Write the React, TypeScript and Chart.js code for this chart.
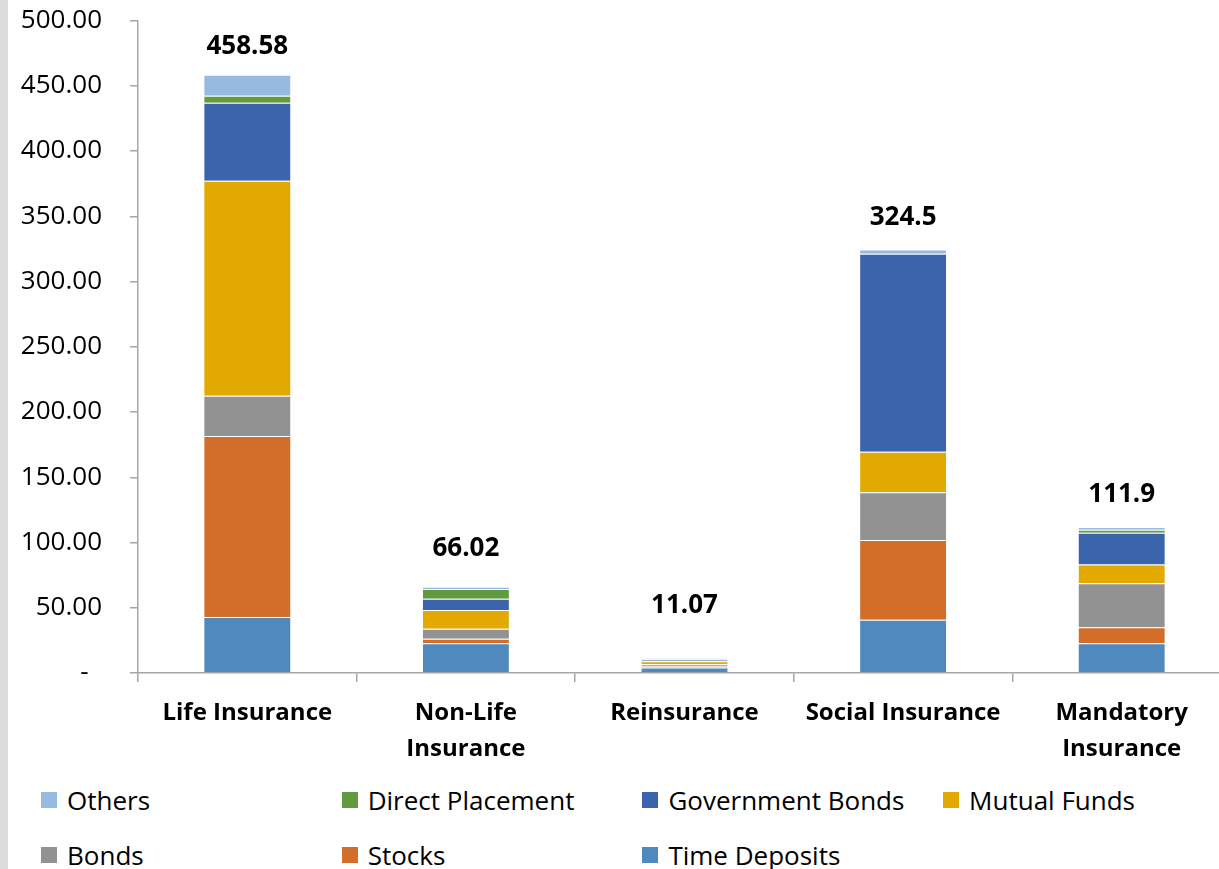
import React, { useEffect, useRef } from "react";
import { Chart, registerables } from "chart.js";

Chart.register(...registerables);

// Investment portfolio by insurance type (stacked, bottom to top)
const categories: (string | string[])[] = [
  "Life Insurance",
  ["Non-Life", "Insurance"],
  "Reinsurance",
  "Social Insurance",
  ["Mandatory", "Insurance"],
];

const timeDeposits = [43.0, 22.8, 4.2, 40.9, 22.8];
const stocks = [138.7, 3.5, 1.0, 61.1, 12.2];
const bonds = [30.7, 7.7, 1.5, 36.5, 33.8];
const mutualFunds = [164.9, 14.3, 2.3, 31.0, 14.3];
const governmentBonds = [59.8, 8.7, 1.3, 151.8, 24.3];
const directPlacement = [5.4, 7.4, 0.3, 0.0, 2.3];
const others = [16.08, 1.62, 0.47, 3.2, 2.2];

const totals = [458.58, 66.02, 11.07, 324.5, 111.9];

const yTicks = [0, 50, 100, 150, 200, 250, 300, 350, 400, 450, 500];

// how far each total label sits above its bar, in px
const labelLift = [28, 38, 53, 32, 32];

const series = [
  { label: "Time Deposits", data: timeDeposits, color: "#4f89bd" },
  { label: "Stocks", data: stocks, color: "#d26e2a" },
  { label: "Bonds", data: bonds, color: "#929292" },
  { label: "Mutual Funds", data: mutualFunds, color: "#e2aa00" },
  { label: "Government Bonds", data: governmentBonds, color: "#3b64ad" },
  { label: "Direct Placement", data: directPlacement, color: "#629b3f" },
  { label: "Others", data: others, color: "#97bae0" },
];

const legendOrder = [
  "Others",
  "Direct Placement",
  "Government Bonds",
  "Mutual Funds",
  "Bonds",
  "Stocks",
  "Time Deposits",
];

const FONT = "'Open Sans', 'Noto Sans', sans-serif";
const AXIS = "#a6a6a6";

const totalsPlugin = {
  id: "stackTotals",
  afterDatasetsDraw(chart: any) {
    const { ctx, scales } = chart;
    const x = scales.x;
    const y = scales.y;
    ctx.save();
    ctx.font = `bold 26px ${FONT}`;
    ctx.fillStyle = "#000";
    ctx.textAlign = "center";
    ctx.textBaseline = "middle";
    totals.forEach((t, i) => {
      const px = x.getPixelForValue(i);
      const py = y.getPixelForValue(t) - labelLift[i];
      ctx.fillText(String(t), px, py);
    });
    ctx.restore();
  },
};

export default function App() {
  const canvasRef = useRef<HTMLCanvasElement | null>(null);

  useEffect(() => {
    const canvas = canvasRef.current;
    if (!canvas) return;
    const chart = new Chart(canvas, {
      type: "bar",
      data: {
        labels: categories as any,
        datasets: series.map((s) => ({
          label: s.label,
          data: s.data,
          backgroundColor: s.color,
          borderColor: "rgba(255,255,255,0.22)",
          borderWidth: 1,
          barPercentage: 0.402,
          categoryPercentage: 1,
        })),
      },
      options: {
        responsive: false,
        animation: false,
        devicePixelRatio: 1,
        layout: { padding: { top: 0, right: 9, bottom: 0, left: 0 } },
        plugins: {
          legend: { display: false },
          tooltip: { enabled: false },
        },
        scales: {
          x: {
            stacked: true,
            grid: {
              drawOnChartArea: false,
              drawTicks: true,
              tickLength: 9,
              color: AXIS,
              lineWidth: 1.5,
              offset: true,
            },
            border: { display: true, color: AXIS, width: 1.5 },
            ticks: {
              color: "#000",
              font: { family: FONT, size: 24, weight: "bold", lineHeight: 1.5 },
              padding: 13,
              maxRotation: 0,
              autoSkip: false,
            },
            afterFit(scale: any) {
              scale.height = 107;
            },
          },
          y: {
            stacked: true,
            min: 0,
            max: 500,
            afterBuildTicks(scale: any) {
              scale.ticks = yTicks.map((v) => ({ value: v }));
            },
            grid: {
              drawOnChartArea: false,
              drawTicks: true,
              tickLength: 8,
              color: AXIS,
              lineWidth: 1.5,
            },
            border: { display: true, color: AXIS, width: 1.5 },
            ticks: {
              color: "#000",
              font: { family: FONT, size: 26 },
              padding: 28,
              callback: (v: any) => (Number(v) === 0 ? "-  " : Number(v).toFixed(2)),
            },
            afterFit(scale: any) {
              scale.width = 138;
            },
          },
        },
      },
      plugins: [totalsPlugin],
    });
    return () => chart.destroy();
  }, []);

  const colorOf = (name: string) => series.find((s) => s.label === name)!.color;

  return (
    <div
      style={{
        position: "fixed",
        left: 0,
        top: 0,
        width: 1219,
        height: 869,
        overflow: "hidden",
        background: "#fff",
      }}
    >
      <canvas
        ref={canvasRef}
        width={1240}
        height={803}
        style={{ position: "absolute", left: 0, top: -23, width: 1240, height: 803 }}
      />
      <div
        style={{
          position: "absolute",
          left: 0,
          top: 0,
          width: 8,
          height: 869,
          background: "#dcdcdc",
        }}
      />
      {legendOrder.map((name, i) => {
        const col = i % 4;
        const row = Math.floor(i / 4);
        return (
          <div
            key={name}
            style={{
              position: "absolute",
              left: 41 + col * 300.7,
              top: row === 0 ? 786 : 841,
              height: 28,
              display: "flex",
              alignItems: "center",
              fontFamily: FONT,
              fontSize: 26,
              color: "#000",
              whiteSpace: "nowrap",
              lineHeight: 1,
            }}
          >
            <span
              style={{
                display: "inline-block",
                width: 16,
                height: 16,
                background: colorOf(name),
                marginRight: 10,
              }}
            />
            <span>{name}</span>
          </div>
        );
      })}
    </div>
  );
}
